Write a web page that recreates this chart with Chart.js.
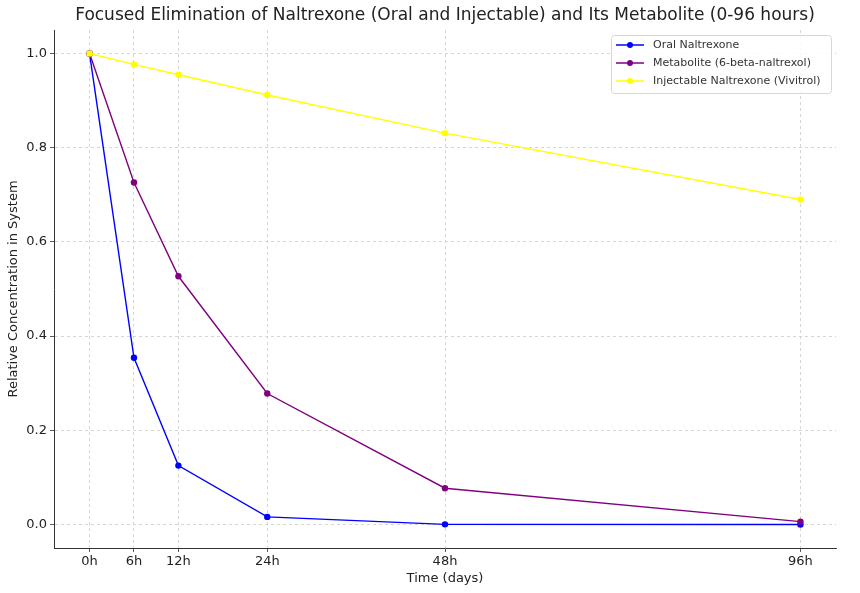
<!DOCTYPE html>
<html>
<head>
<meta charset="utf-8">
<script src="https://cdn.jsdelivr.net/npm/chart.js@4"></script>
<style>
  html, body { margin: 0; padding: 0; background: #fff; }
  #wrap { width: 860px; height: 593px; }
</style>
</head>
<body>
<div id="wrap"><canvas id="myChart" width="860" height="593"></canvas></div>
<script>
// Data (hours since dose)
const hours = [0, 6, 12, 24, 48, 96];
const hourLabels = ["0h", "6h", "12h", "24h", "48h", "96h"];
const oral = [1.0, 0.354, 0.125, 0.016, 0.0002, 0.0];
const metabolite = [1.0, 0.726, 0.527, 0.278, 0.077, 0.006];
const injectable = [1.0, 0.977, 0.955, 0.912, 0.831, 0.69];
const yTicks = [0.0, 0.2, 0.4, 0.6, 0.8, 1.0];

const seriesNames = ["Oral Naltrexone", "Metabolite (6-beta-naltrexol)", "Injectable Naltrexone (Vivitrol)"];
const colors = ['#0000ff', '#800080', '#ffff00'];

const FONT = "'DejaVu Sans', sans-serif";

function toPoints(arr) {
    return hours.map((h, i) => ({ x: h, y: arr[i] }));
}

// title + legend drawn by hand, matplotlib style
const extras = {
    id: 'extras',
    afterDraw(chart) {
        const ctx = chart.ctx;
        const area = chart.chartArea;
        ctx.save();
        ctx.fillStyle = '#222';
        ctx.font = '17px ' + FONT;
        ctx.textAlign = 'center';
        ctx.textBaseline = 'middle';
        ctx.fillText('Focused Elimination of Naltrexone (Oral and Injectable) and Its Metabolite (0-96 hours)', (area.left + area.right) / 2, 16);

        // legend box
        const bx = 611, by = 35, bw = 220, bh = 58;
        ctx.fillStyle = 'rgba(255,255,255,0.85)';
        ctx.strokeStyle = '#d6d6d6';
        ctx.lineWidth = 1;
        ctx.beginPath();
        ctx.roundRect(bx + 0.5, by + 0.5, bw, bh, 3);
        ctx.fill();
        ctx.stroke();
        ctx.font = '11px ' + FONT;
        ctx.textAlign = 'left';
        seriesNames.forEach((name, i) => {
            const y = by + 10 + i * 18;
            ctx.strokeStyle = colors[i];
            ctx.lineWidth = 1.5;
            ctx.beginPath();
            ctx.moveTo(bx + 5, y);
            ctx.lineTo(bx + 33, y);
            ctx.stroke();
            ctx.fillStyle = colors[i];
            ctx.beginPath();
            ctx.arc(bx + 19, y, 3, 0, Math.PI * 2);
            ctx.fill();
            ctx.fillStyle = '#333';
            ctx.fillText(name, bx + 42, y);
        });
        ctx.restore();
    }
};

const gridOpts = {
    color: '#cccccc',
    lineWidth: 0.8,
    tickColor: '#333',
    tickLength: 4
};

const ctx = document.getElementById('myChart').getContext('2d');
new Chart(ctx, {
    type: 'line',
    data: {
        datasets: [
            { label: seriesNames[0], data: toPoints(oral), borderColor: colors[0], backgroundColor: colors[0], order: 3 },
            { label: seriesNames[1], data: toPoints(metabolite), borderColor: colors[1], backgroundColor: colors[1], order: 2 },
            { label: seriesNames[2], data: toPoints(injectable), borderColor: colors[2], backgroundColor: colors[2], order: 1 }
        ]
    },
    options: {
        responsive: false,
        animation: false,
        devicePixelRatio: 1,
        layout: { padding: { top: 30, right: 24, left: 6, bottom: 7 } },
        elements: {
            line: { borderWidth: 1.4, tension: 0 },
            point: { radius: 3.2, borderWidth: 0, hoverRadius: 3.2 }
        },
        plugins: {
            legend: { display: false },
            title: { display: false },
            tooltip: { enabled: false }
        },
        scales: {
            x: {
                type: 'linear',
                min: -4.8,
                max: 100.8,
                afterBuildTicks: (scale) => { scale.ticks = hours.map(v => ({ value: v })); },
                afterFit: (scale) => { scale.height = 38; },
                ticks: {
                    color: '#222',
                    font: { family: FONT, size: 13 },
                    padding: 2,
                    maxRotation: 0,
                    autoSkip: false,
                    callback: (v) => hourLabels[hours.indexOf(v)]
                },
                grid: gridOpts,
                border: { display: true, color: '#333', width: 1, dash: [3, 3] },
                title: {
                    display: true,
                    text: 'Time (days)',
                    color: '#222',
                    font: { family: FONT, size: 13 },
                    padding: { top: 0, bottom: 0 }
                }
            },
            y: {
                min: -0.05,
                max: 1.05,
                afterBuildTicks: (scale) => { scale.ticks = yTicks.map(v => ({ value: v })); },
                afterFit: (scale) => { scale.width = 48; },
                ticks: {
                    color: '#222',
                    font: { family: FONT, size: 13 },
                    padding: 3,
                    callback: (v) => v.toFixed(1)
                },
                grid: gridOpts,
                border: { display: true, color: '#333', width: 1, dash: [3, 3] },
                title: {
                    display: true,
                    text: 'Relative Concentration in System',
                    color: '#222',
                    font: { family: FONT, size: 13 },
                    padding: { top: 0, bottom: 2 }
                }
            }
        }
    },
    plugins: [extras]
});
</script>
</body>
</html>
